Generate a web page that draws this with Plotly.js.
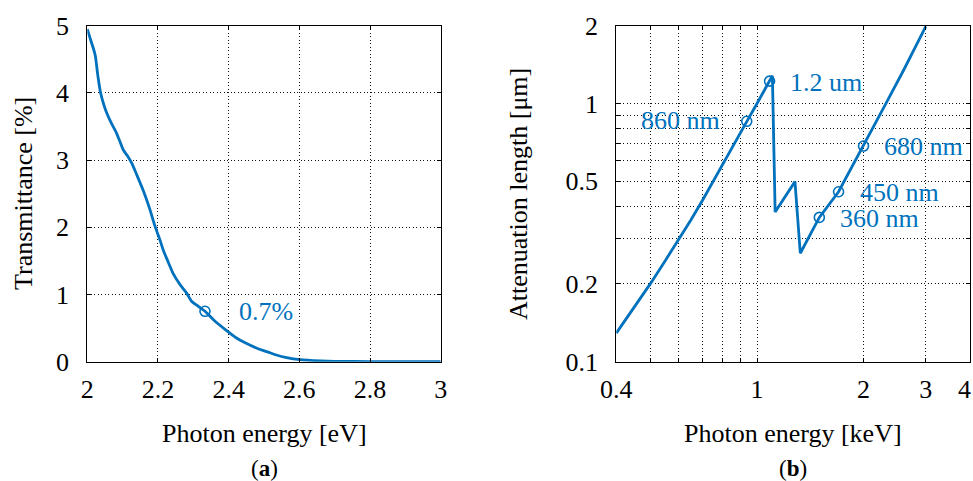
<!DOCTYPE html>
<html>
<head>
<meta charset="utf-8">
<script src="https://cdn.plot.ly/plotly-3.0.1.min.js"></script>
<style>html,body{margin:0;padding:0;background:#fff;}#chart{width:973px;height:481px;}</style>
</head>
<body>
<div id="chart"></div>
<script>
// Panel (a): transmittance vs photon energy
const energyA = [2.0, 2.01, 2.022, 2.03, 2.038, 2.047, 2.055, 2.068, 2.081, 2.092, 2.102, 2.114, 2.126, 2.14, 2.158, 2.175, 2.192, 2.205, 2.215, 2.23, 2.243, 2.262, 2.281, 2.295, 2.315, 2.333, 2.36, 2.395, 2.42, 2.451, 2.48, 2.508, 2.535, 2.564, 2.602, 2.66, 2.7, 2.8, 2.9, 3.0];
const transA = [4.95, 4.78, 4.57, 4.25, 3.99, 3.82, 3.70, 3.55, 3.42, 3.28, 3.15, 3.06, 2.95, 2.78, 2.55, 2.30, 2.01, 1.82, 1.66, 1.47, 1.31, 1.15, 1.02, 0.90, 0.82, 0.75, 0.61, 0.46, 0.36, 0.27, 0.20, 0.15, 0.10, 0.062, 0.032, 0.013, 0.006, 0.002, 0.001, 0.0];
const markA = {x: [2.333], y: [0.75], label: ['0.7%'], labelX: [2.424]};

// Panel (b): attenuation length vs photon energy
const energyB = [0.4, 0.45, 0.5, 0.55, 0.6, 0.65, 0.7, 0.751, 0.8, 0.85, 0.9, 0.935, 1.0, 1.05, 1.105, 1.125, 1.28, 1.325, 1.5, 1.7, 2.0, 2.315, 2.6, 3.0];
const attenB = [0.129, 0.163, 0.201, 0.246, 0.297, 0.354, 0.42, 0.5, 0.58, 0.675, 0.776, 0.85, 1.0, 1.13, 1.28, 0.38, 0.498, 0.263, 0.362, 0.455, 0.684, 1.0, 1.35, 1.99];
const markBx = [1.085, 0.935, 2.0, 1.7, 1.5];
const markBy = [1.22, 0.853, 0.684, 0.455, 0.362];
const labelB = ['1.2 um', '860 nm', '680 nm', '450 nm', '360 nm'];
const labelBx = [1.222, 0.796, 2.25, 1.925, 1.69];
const labelBy = [1.21, 0.857, 0.684, 0.453, 0.36];
const labelBanchor = ['left', 'right', 'left', 'left', 'left'];

const ticksAx = [2, 2.2, 2.4, 2.6, 2.8, 3];
const ticksAy = [0, 1, 2, 3, 4, 5];
const ticksBx = [0.4, 0.5, 0.6, 0.7, 0.8, 0.9, 1, 2, 3, 4];
const ticksBxText = ['0.4', '', '', '', '', '', '1', '2', '3', '4'];
const edgeTickB = ['4'];
const ticksBy = [0.1, 0.2, 0.3, 0.4, 0.5, 0.6, 0.7, 0.8, 0.9, 1, 2];
const ticksByText = ['0.1', '0.2', '', '', '0.5', '', '', '', '', '1', '2'];

const BLUE = '#0072BD';
const FONT = "'Liberation Serif', 'Times New Roman', serif";
const FS = 26;

const traces = [
  {x: energyA, y: transA, mode: 'lines', line: {color: BLUE, width: 2.8, shape: 'spline', smoothing: 0.8}, xaxis: 'x', yaxis: 'y', hoverinfo: 'none'},
  {x: markA.x, y: markA.y, mode: 'markers', marker: {symbol: 'circle-open', size: 10, color: BLUE, line: {width: 1.6, color: BLUE}}, xaxis: 'x', yaxis: 'y'},
  {x: energyB, y: attenB, mode: 'lines', line: {color: BLUE, width: 2.8}, xaxis: 'x2', yaxis: 'y2', hoverinfo: 'none'},
  {x: markBx, y: markBy, mode: 'markers', marker: {symbol: 'circle-open', size: 10, color: BLUE, line: {width: 1.6, color: BLUE}}, xaxis: 'x2', yaxis: 'y2'}
];

const axBase = {
  showline: true, linecolor: '#000', linewidth: 1.2, mirror: 'ticks',
  ticks: 'inside', ticklen: 4, tickcolor: '#000', tickwidth: 1,
  showgrid: true, gridcolor: '#111', gridwidth: 1, griddash: '1px,2.5px',
  zeroline: false, tickfont: {family: FONT, size: FS, color: '#000'},
  tickmode: 'array', fixedrange: true
};

const yDom = [1 - 361.7 / 481, 1 - 25.7 / 481];

const annotations = [];
annotations.push({xref: 'x', yref: 'y', x: markA.labelX[0], y: markA.y[0], text: markA.label[0], showarrow: false, xanchor: 'left', yanchor: 'middle', font: {family: FONT, size: FS, color: BLUE}});
for (let i = 0; i < labelB.length; i++) {
  annotations.push({xref: 'x2', yref: 'y2', x: Math.log10(labelBx[i]), y: Math.log10(labelBy[i]), text: labelB[i], showarrow: false, xanchor: labelBanchor[i], yanchor: 'middle', font: {family: FONT, size: FS, color: '#0072BD'}});
}
// edge tick label at the right end of panel (b), kept inside the page
edgeTickB.forEach(t => annotations.push({xref: 'paper', yref: 'paper', x: 1, y: 1 - 389 / 481, text: t, showarrow: false, xanchor: 'right', yanchor: 'middle', font: {family: FONT, size: FS, color: '#000'}}));
// axis titles and panel labels
annotations.push({xref: 'paper', yref: 'paper', x: 264 / 973, y: 1 - 433 / 481, text: 'Photon energy [eV]', showarrow: false, xanchor: 'center', yanchor: 'middle', font: {family: FONT, size: FS, color: '#000'}});
annotations.push({xref: 'paper', yref: 'paper', x: 793 / 973, y: 1 - 433 / 481, text: 'Photon energy [keV]', showarrow: false, xanchor: 'center', yanchor: 'middle', font: {family: FONT, size: FS, color: '#000'}});
annotations.push({xref: 'paper', yref: 'paper', x: 23 / 973, y: 1 - 194 / 481, text: 'Transmittance [%]', textangle: -90, showarrow: false, xanchor: 'center', yanchor: 'middle', font: {family: FONT, size: FS, color: '#000'}});
annotations.push({xref: 'paper', yref: 'paper', x: 518 / 973, y: 1 - 194 / 481, text: 'Attenuation length [μm]', textangle: -90, showarrow: false, xanchor: 'center', yanchor: 'middle', font: {family: FONT, size: FS, color: '#000'}});
annotations.push({xref: 'paper', yref: 'paper', x: 264 / 973, y: 1 - 468 / 481, text: '(<b>a</b>)', showarrow: false, xanchor: 'center', yanchor: 'middle', font: {family: FONT, size: 23, color: '#000'}});
annotations.push({xref: 'paper', yref: 'paper', x: 793 / 973, y: 1 - 468 / 481, text: '(<b>b</b>)', showarrow: false, xanchor: 'center', yanchor: 'middle', font: {family: FONT, size: 23, color: '#000'}});

const layout = {
  width: 973, height: 481,
  margin: {l: 0, r: 0, t: 0, b: 0},
  paper_bgcolor: '#fff', plot_bgcolor: '#fff',
  showlegend: false,
  xaxis: Object.assign({}, axBase, {domain: [87.3 / 973, 440.7 / 973], range: [2, 3], tickvals: ticksAx, ticktext: ticksAx.map(v => String(v)), anchor: 'y', ticklabelstandoff: 4}),
  yaxis: Object.assign({}, axBase, {domain: yDom, range: [0, 5], tickvals: ticksAy, ticktext: ticksAy.map(v => String(v)), anchor: 'x', ticklabelstandoff: 12}),
  xaxis2: Object.assign({}, axBase, {domain: [616.3 / 973, 970 / 973], type: 'log', range: [Math.log10(0.4), Math.log10(4)], tickvals: ticksBx, ticktext: ticksBxText, anchor: 'y2', ticklabelstandoff: 4}),
  yaxis2: Object.assign({}, axBase, {domain: yDom, type: 'log', range: [-1, Math.log10(2)], tickvals: ticksBy, ticktext: ticksByText, anchor: 'x2', ticklabelstandoff: 12}),
  annotations: annotations
};

Plotly.newPlot('chart', traces, layout, {staticPlot: true, displayModeBar: false});
</script>
</body>
</html>
